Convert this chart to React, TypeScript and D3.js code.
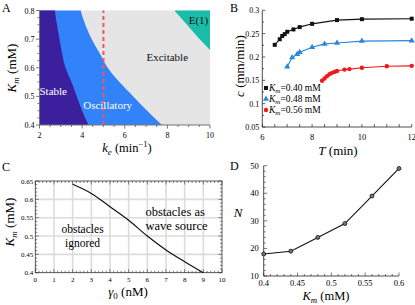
import React from 'react'
import * as d3 from 'd3'

// ---- panel A : phase diagram ----
const aKm = [0.4, 0.45, 0.5, 0.55, 0.6, 0.65, 0.7, 0.75, 0.8]
const aStableEdge = [4.3, 4.0, 3.75, 3.5, 3.22, 3.06, 2.94, 2.82, 2.72]
const aOscEdge = [7.75, 7.05, 6.4, 5.75, 5.2, 4.83, 4.45, 4.15, 3.93]
const aE1Ke = [8.33, 8.9, 9.45, 10]
const aE1Km = [0.8, 0.752, 0.705, 0.662]
const aCut = 5
const aXTicks = [2, 4, 6, 8, 10]
const aYTicks = [0.4, 0.5, 0.6, 0.7, 0.8]

// ---- panel B : speed vs period ----
const bT40 = [6.5, 6.7, 6.8, 6.9, 7.0, 7.25, 7.5, 8, 9, 10, 12]
const bC40 = [0.226, 0.238, 0.245, 0.249, 0.254, 0.259, 0.264, 0.271, 0.279, 0.281, 0.282]
const bT48 = [7, 7.2, 7.4, 7.5, 8, 8.5, 9, 10, 12]
const bC48 = [0.179, 0.199, 0.206, 0.21, 0.221, 0.228, 0.23, 0.234, 0.235]
const bT56 = [8.4, 8.5, 8.6, 8.7, 8.8, 8.9, 9, 9.3, 9.5, 10, 11, 12]
const bC56 = [0.149, 0.154, 0.159, 0.163, 0.166, 0.168, 0.17, 0.173, 0.174, 0.177, 0.18, 0.181]
const bLegend = ['0.40', '0.48', '0.56']
const bXTicks = [6, 8, 10, 12]
const bYTicks = [0.05, 0.1, 0.15, 0.2, 0.25, 0.3]

// ---- panel C : obstacle boundary ----
const cGamma = [2, 3, 4, 5, 6, 7, 8, 9]
const cKm = [0.641, 0.616, 0.58, 0.543, 0.5, 0.462, 0.43, 0.4]
const cXTicks = [0, 1, 2, 3, 4, 5, 6, 7, 8, 9, 10]
const cYTicks = [0.4, 0.45, 0.5, 0.55, 0.6, 0.65]

// ---- panel D : N vs Km ----
const dKm = [0.4, 0.44, 0.48, 0.52, 0.56, 0.6]
const dN = [18, 19, 24, 29, 39, 49]
const dXTicks = [0.4, 0.45, 0.5, 0.55, 0.6]
const dYTicks = [10, 20, 30, 40, 50]

const serif = 'Liberation Serif, Times New Roman, serif'
const fmt = (v: number) => String(+v.toFixed(2))

const Km = ({ x, y, size, rotate }: any) => (
  <text x={x} y={y} fontSize={size} fontFamily={serif} textAnchor="middle"
    transform={rotate ? `rotate(-90 ${x} ${y})` : undefined}>
    <tspan fontStyle="italic">K</tspan>
    <tspan fontStyle="italic" fontSize={size * 0.7} dy={size * 0.2}>m</tspan>
    <tspan dy={-size * 0.2}> (mM)</tspan>
  </text>
)

function PanelA() {
  const x = d3.scaleLinear().domain([2, 10]).range([39.5, 210])
  const y = d3.scaleLinear().domain([0.4, 0.8]).range([125, 10.5])
  const rows = aKm.map((k, i) => ({ k, s: aStableEdge[i], o: aOscEdge[i] }))
  const osc = d3.area<any>().y(d => y(d.k)).x0(x(2)).x1(d => x(d.o)).curve(d3.curveMonotoneY)
  const stab = d3.area<any>().y(d => y(d.k)).x0(x(2)).x1(d => x(d.s)).curve(d3.curveMonotoneY)
  const e1pts: [number, number][] = aE1Ke.map((k, i) => [x(k), y(aE1Km[i])])
  e1pts.push([x(10), y(0.8)])
  const e1 = d3.line()(e1pts) + 'Z'
  const minorX = d3.range(2, 10.01, 0.5)
  const minorY = d3.range(0.4, 0.801, 0.025)
  return (
    <g>
      <rect x={x(2)} y={y(0.8)} width={x(10) - x(2)} height={y(0.4) - y(0.8)} fill="#e5e5e5" />
      <path d={osc(rows) as string} fill="#3282fa" />
      <path d={stab(rows) as string} fill="#3b1f9c" />
      <path d={e1} fill="#1bbdaa" />
      <line x1={x(aCut)} x2={x(aCut)} y1={y(0.4)} y2={y(0.8)} stroke="#ee5a5a" strokeWidth={2} strokeDasharray="4,3" />
      <line x1={x(2)} x2={x(10)} y1={y(0.4)} y2={y(0.4)} stroke="#777" strokeWidth={1} />
      <line x1={x(2)} x2={x(2)} y1={y(0.4)} y2={y(0.8)} stroke="#777" strokeWidth={1} />
      {minorX.map(v => (
        <line key={'ax' + v} x1={x(v)} x2={x(v)} y1={y(0.4)} y2={y(0.4) + (aXTicks.includes(v) ? 3.5 : 2)} stroke="#555" strokeWidth={0.8} />
      ))}
      {minorY.map(v => (
        <line key={'ay' + v} y1={y(v)} y2={y(v)} x1={x(2)} x2={x(2) - (aYTicks.some(t => Math.abs(t - v) < 1e-6) ? 3.5 : 2)} stroke="#555" strokeWidth={0.8} />
      ))}
      {aXTicks.map(v => (
        <text key={'axl' + v} x={x(v)} y={y(0.4) + 13} fontSize={8} fontFamily={serif} textAnchor="middle">{v}</text>
      ))}
      {aYTicks.map(v => (
        <text key={'ayl' + v} x={x(2) - 5} y={y(v) + 3} fontSize={8} fontFamily={serif} textAnchor="end">{fmt(v)}</text>
      ))}
      <text x={x(2.0)} y={y(0.505)} fontSize={11} fontFamily={serif} fill="#fff">Stable</text>
      <text x={x(4.05)} y={y(0.455)} fontSize={11} fontFamily={serif} fill="#fff">Oscillatory</text>
      <text x={x(7.02)} y={y(0.622)} fontSize={11} fontFamily={serif} fill="#111">Excitable</text>
      <text x={x(9.0)} y={y(0.752)} fontSize={11} fontFamily={serif} fill="#111">E(1)</text>
      <Km x={16} y={68} size={13} rotate />
      <text x={127} y={152} fontSize={12.5} fontFamily={serif} textAnchor="middle">
        <tspan fontStyle="italic">k</tspan>
        <tspan fontStyle="italic" fontSize={9} dy={2.5}>e</tspan>
        <tspan dy={-2.5}> (min</tspan>
        <tspan fontSize={8.5} dy={-5}>−1</tspan>
        <tspan dy={5}>)</tspan>
      </text>
      <text x={2} y={12} fontSize={12} fontFamily={serif}>A</text>
    </g>
  )
}

function PanelB() {
  const x = d3.scaleLinear().domain([6, 12]).range([262.3, 411.7])
  const y = d3.scaleLinear().domain([0.05, 0.3]).range([127, 10.3])
  const mk = (ts: number[], cs: number[]) => d3.line<number>().x((_, i) => x(ts[i])).y((_, i) => y(cs[i]))(ts) as string
  const minorX = d3.range(6, 12.01, 0.5)
  const minorY = d3.range(0.05, 0.301, 0.025)
  return (
    <g>
      <line x1={x(6)} x2={x(12)} y1={y(0.05)} y2={y(0.05)} stroke="#222" strokeWidth={0.8} />
      <line x1={x(6)} x2={x(6)} y1={y(0.05)} y2={y(0.3)} stroke="#222" strokeWidth={0.8} />
      {minorX.map(v => (
        <line key={'bx' + v} x1={x(v)} x2={x(v)} y1={y(0.05)} y2={y(0.05) - 3} stroke="#222" strokeWidth={0.7} />
      ))}
      {minorY.map(v => (
        <line key={'by' + v} y1={y(v)} y2={y(v)} x1={x(6)} x2={x(6) + (bYTicks.some(t => Math.abs(t - v) < 1e-6) ? 3 : 1.8)} stroke="#222" strokeWidth={0.7} />
      ))}
      {bXTicks.map(v => (
        <text key={'bxl' + v} x={x(v)} y={y(0.05) + 13} fontSize={8.5} fontFamily={serif} textAnchor="middle">{v}</text>
      ))}
      {bYTicks.map(v => (
        <text key={'byl' + v} x={x(6) - 3} y={y(v) + 3} fontSize={8} fontFamily={serif} textAnchor="end">{fmt(v)}</text>
      ))}
      <path d={mk(bT40, bC40)} fill="none" stroke="#111" strokeWidth={1.1} />
      <path d={mk(bT48, bC48)} fill="none" stroke="#2a86d8" strokeWidth={1.1} />
      <path d={mk(bT56, bC56)} fill="none" stroke="#f01818" strokeWidth={1.1} />
      {bT40.map((t, i) => (
        <rect key={'s' + i} x={x(t) - 2} y={y(bC40[i]) - 2} width={4} height={4} fill="#111" />
      ))}
      {bT48.map((t, i) => (
        <path key={'t' + i} d={d3.symbol(d3.symbolTriangle, 16)() as string} transform={`translate(${x(t)},${y(bC48[i])})`} fill="#2a86d8" />
      ))}
      {bT56.map((t, i) => (
        <circle key={'c' + i} cx={x(t)} cy={y(bC56[i])} r={2.2} fill="#f01818" />
      ))}
      {bLegend.map((v, i) => {
        const cy = 88 + i * 11
        const col = ['#111', '#2a86d8', '#f01818'][i]
        return (
          <g key={'lg' + i}>
            {i === 0 && <rect x={264} y={cy - 2} width={4} height={4} fill={col} />}
            {i === 1 && <path d={d3.symbol(d3.symbolTriangle, 16)() as string} transform={`translate(266,${cy})`} fill={col} />}
            {i === 2 && <circle cx={266} cy={cy} r={2.2} fill={col} />}
            <text x={269} y={cy + 3.2} fontSize={9.5} fontFamily={serif}>
              <tspan fontStyle="italic">K</tspan>
              <tspan fontStyle="italic" fontSize={7} dy={1.8}>m</tspan>
              <tspan dy={-1.8}>{'=' + v + ' mM'}</tspan>
            </text>
          </g>
        )
      })}
      <text x={244} y={66} fontSize={13} fontFamily={serif} textAnchor="middle" transform="rotate(-90 244 66)">
        <tspan fontStyle="italic">c</tspan> (mm/min)
      </text>
      <text x={338} y={155} fontSize={13} fontFamily={serif} textAnchor="middle">
        <tspan fontStyle="italic">T</tspan> (min)
      </text>
      <text x={230} y={12} fontSize={12} fontFamily={serif}>B</text>
    </g>
  )
}

function PanelC() {
  const x = d3.scaleLinear().domain([0, 10]).range([35.3, 222])
  const y = d3.scaleLinear().domain([0.4, 0.65]).range([272.7, 181])
  const path = d3.line<number>().x(d => x(d)).y((_, i) => y(cKm[i])).curve(d3.curveMonotoneX)(cGamma) as string
  const minorX = d3.range(0, 10.01, 0.2)
  const minorY = d3.range(0.4, 0.651, 0.01)
  return (
    <g>
      {cXTicks.slice(1, -1).map(v => (
        <line key={'gx' + v} x1={x(v)} x2={x(v)} y1={y(0.4)} y2={y(0.65)} stroke="#dcdcdc" strokeWidth={1.6} />
      ))}
      {cYTicks.slice(1, -1).map(v => (
        <line key={'gy' + v} x1={x(0)} x2={x(10)} y1={y(v)} y2={y(v)} stroke="#dcdcdc" strokeWidth={1.6} />
      ))}
      {minorX.map((v, i) => {
        const len = i % 5 === 0 ? 3.5 : 2
        return (
          <g key={'cx' + i}>
            <line x1={x(v)} x2={x(v)} y1={y(0.4)} y2={y(0.4) - len} stroke="#333" strokeWidth={0.6} />
            <line x1={x(v)} x2={x(v)} y1={y(0.65)} y2={y(0.65) + len} stroke="#333" strokeWidth={0.6} />
          </g>
        )
      })}
      {minorY.map((v, i) => {
        const len = i % 5 === 0 ? 3.5 : 2
        return (
          <g key={'cy' + i}>
            <line y1={y(v)} y2={y(v)} x1={x(0)} x2={x(0) + len} stroke="#333" strokeWidth={0.6} />
            <line y1={y(v)} y2={y(v)} x1={x(10)} x2={x(10) - len} stroke="#333" strokeWidth={0.6} />
          </g>
        )
      })}
      <rect x={x(0)} y={y(0.65)} width={x(10) - x(0)} height={y(0.4) - y(0.65)} fill="none" stroke="#333" strokeWidth={0.8} />
      {cXTicks.map(v => (
        <text key={'cxl' + v} x={x(v)} y={y(0.4) + 9} fontSize={7} fontFamily={serif} textAnchor="middle">{v}</text>
      ))}
      {cYTicks.map(v => (
        <text key={'cyl' + v} x={x(0) - 2} y={y(v) + 2.5} fontSize={7} fontFamily={serif} textAnchor="end">{fmt(v)}</text>
      ))}
      <path d={path} fill="none" stroke="#111" strokeWidth={1.2} />
      <text x={x(2.53)} y={233} fontSize={11.5} fontFamily={serif} textAnchor="middle">obstacles</text>
      <text x={x(2.53)} y={246.5} fontSize={11.5} fontFamily={serif} textAnchor="middle">ignored</text>
      <text x={x(5.9)} y={216} fontSize={12.5} fontFamily={serif}>obstacles as</text>
      <text x={x(5.9)} y={229.5} fontSize={12.5} fontFamily={serif}>wave source</text>
      <Km x={14} y={222} size={13} rotate />
      <text x={128} y={296} fontSize={13} fontFamily={serif} textAnchor="middle">
        <tspan fontStyle="italic">γ</tspan>
        <tspan fontSize={9} dy={2.5}>0</tspan>
        <tspan dy={-2.5}> (nM)</tspan>
      </text>
      <text x={2} y={171} fontSize={12} fontFamily={serif}>C</text>
    </g>
  )
}

function PanelD() {
  const x = d3.scaleLinear().domain([0.4, 0.6]).range([263.7, 399])
  const y = d3.scaleLinear().domain([10, 50]).range([276, 165.7])
  const path = d3.line<number>().x(d => x(d)).y((_, i) => y(dN[i]))(dKm) as string
  const minorX = d3.range(0.4, 0.6001, 0.01)
  const minorY = d3.range(10, 50.01, 2)
  return (
    <g>
      <line x1={x(0.4)} x2={x(0.6)} y1={y(10)} y2={y(10)} stroke="#222" strokeWidth={0.8} />
      <line x1={x(0.4)} x2={x(0.4)} y1={y(10)} y2={y(50)} stroke="#222" strokeWidth={0.8} />
      {minorX.map((v, i) => (
        <line key={'dx' + i} x1={x(v)} x2={x(v)} y1={y(10)} y2={y(10) - (i % 5 === 0 ? 3.5 : 2)} stroke="#222" strokeWidth={0.6} />
      ))}
      {minorY.map((v, i) => (
        <line key={'dy' + i} y1={y(v)} y2={y(v)} x1={x(0.4)} x2={x(0.4) + (i % 5 === 0 ? 3.5 : 2)} stroke="#222" strokeWidth={0.6} />
      ))}
      {dXTicks.map(v => (
        <text key={'dxl' + v} x={x(v)} y={y(10) + 10} fontSize={8.5} fontFamily={serif} textAnchor="middle">{fmt(v)}</text>
      ))}
      {dYTicks.map(v => (
        <text key={'dyl' + v} x={x(0.4) - 5} y={y(v) + 3} fontSize={8.5} fontFamily={serif} textAnchor="end">{v}</text>
      ))}
      <path d={path} fill="none" stroke="#111" strokeWidth={1.1} />
      {dKm.map((k, i) => (
        <circle key={'dp' + i} cx={x(k)} cy={y(dN[i])} r={2} fill="#777" stroke="#111" strokeWidth={0.8} />
      ))}
      <text x={238} y={217} fontSize={13} fontFamily={serif} fontStyle="italic" textAnchor="middle">N</text>
      <Km x={326} y={300} size={12.5} />
      <text x={230} y={170} fontSize={12} fontFamily={serif}>D</text>
    </g>
  )
}

export default function App() {
  return (
    <svg width={415} height={305} style={{ position: 'absolute', left: 0, top: 0, background: '#fff' }}>
      <PanelA />
      <PanelB />
      <PanelC />
      <PanelD />
    </svg>
  )
}
